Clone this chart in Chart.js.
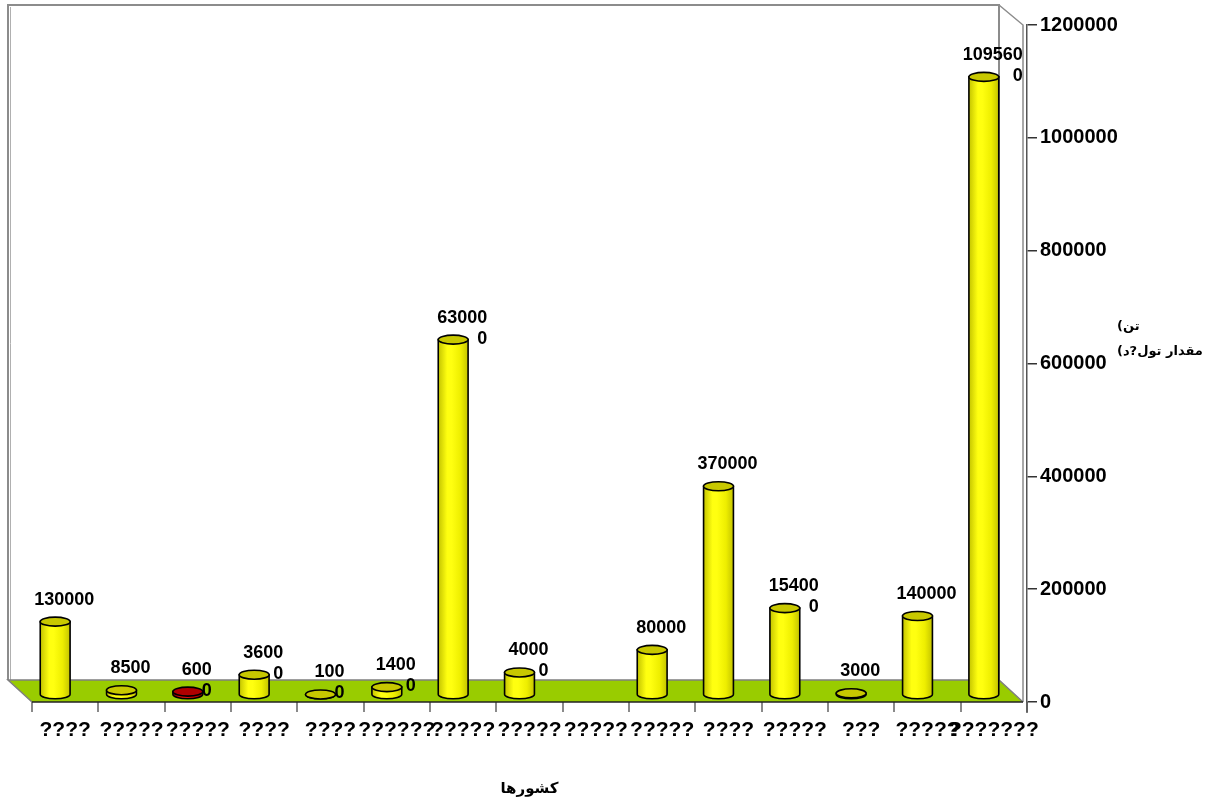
<!DOCTYPE html>
<html>
<head>
<meta charset="utf-8">
<title>کشورها</title>
<script src="https://cdn.jsdelivr.net/npm/chart.js@4/dist/chart.umd.min.js"></script>
<style>
  html, body { margin: 0; padding: 0; background: #ffffff; }
  #wrap { width: 1211px; height: 802px; }
</style>
</head>
<body>
<div id="wrap"><canvas id="chart" width="1211" height="802"></canvas></div>
<script>
// Category names (as they appear on the axis)
const countries = [
  '????', '?????', '?????', '????', '????', '??????', '?????', '?????',
  '?????', '?????', '????', '?????', '???', '?????', '???????'
];
// Production per country
const production = [
  130000, 8500, 6000, 36000, 1000, 14000, 630000, 40000,
  null, 80000, 370000, 154000, 3000, 140000, 1095600
];
// Value labels whose last digit drops to a second line
const wrappedValueLabels = [2, 3, 4, 5, 6, 7, 11, 14];
// Value axis ticks
const valueTicks = [0, 200000, 400000, 600000, 800000, 1000000, 1200000];
// Axis titles
const xAxisTitle = 'کشورها';
const yAxisTitleLines = ['(تن', '(مقدار تول?د'];

const LATIN = '"Liberation Sans", Arial, sans-serif';
const ARABIC = '"DejaVu Sans", "Liberation Sans", sans-serif';

// Depth of the 3D box and of the column row inside it
const BOX_DX = -24, BOX_DY = -22;
const ROW_DX = -10, ROW_DY = -7;

const palettes = {
  yellow: { edge: '#c4c400', light: '#ffff10', mid: '#eeee00', top: '#c8c800' },
  red:    { edge: '#9a0000', light: '#e41010', mid: '#cc0000', top: '#b00000' }
};

function drawCylinder(ctx, cx, top, bottom, w, pal) {
  const rx = w / 2, ry = 4.5;
  const l = cx - rx, r = cx + rx;
  const g = ctx.createLinearGradient(l, 0, r, 0);
  g.addColorStop(0, pal.edge);
  g.addColorStop(0.3, pal.light);
  g.addColorStop(0.45, pal.light);
  g.addColorStop(0.75, pal.mid);
  g.addColorStop(1, pal.edge);
  ctx.save();
  ctx.lineWidth = 1.6;
  ctx.strokeStyle = '#000';
  ctx.beginPath();
  ctx.moveTo(l, top);
  ctx.lineTo(l, bottom);
  ctx.ellipse(cx, bottom, rx, ry, 0, Math.PI, 0, true);
  ctx.lineTo(r, top);
  ctx.closePath();
  ctx.fillStyle = g;
  ctx.fill();
  ctx.stroke();
  ctx.beginPath();
  ctx.ellipse(cx, top, rx, ry, 0, 0, Math.PI * 2);
  ctx.fillStyle = pal.top;
  ctx.fill();
  ctx.stroke();
  ctx.restore();
}

// Back wall, side wall and floor of the 3D box
const boxPlugin = {
  id: 'box3d',
  beforeDatasetsDraw(chart) {
    const { ctx, chartArea: a } = chart;
    const fl = a.left, fr = a.right - 4, fb = a.bottom, ft = a.top;
    const bl = fl + BOX_DX, br = fr + BOX_DX, bb = fb + BOX_DY, bt = ft + BOX_DY + 2;
    ctx.save();
    // back wall
    ctx.fillStyle = '#ffffff';
    ctx.fillRect(bl, bt, br - bl, bb - bt);
    ctx.strokeStyle = '#8c8c8c';
    ctx.lineWidth = 2;
    ctx.beginPath();
    ctx.moveTo(bl, bb); ctx.lineTo(bl, bt); ctx.lineTo(br, bt); ctx.lineTo(br, bb);
    ctx.stroke();
    ctx.lineWidth = 1;
    ctx.strokeStyle = '#b0b0b0';
    ctx.beginPath();
    ctx.moveTo(bl + 2.5, bb); ctx.lineTo(bl + 2.5, bt + 2);
    ctx.stroke();
    // side wall
    ctx.strokeStyle = '#8c8c8c';
    ctx.lineWidth = 1.5;
    ctx.beginPath();
    ctx.moveTo(br, bt); ctx.lineTo(fr, ft); ctx.lineTo(fr, fb);
    ctx.stroke();
    // floor
    ctx.fillStyle = '#99cc00';
    ctx.beginPath();
    ctx.moveTo(bl, bb); ctx.lineTo(br, bb); ctx.lineTo(fr, fb); ctx.lineTo(fl, fb);
    ctx.closePath();
    ctx.fill();
    ctx.strokeStyle = '#7f7f7f';
    ctx.lineWidth = 1.5;
    ctx.beginPath();
    ctx.moveTo(fl, fb); ctx.lineTo(bl, bb); ctx.lineTo(br, bb); ctx.lineTo(fr, fb);
    ctx.stroke();
    ctx.strokeStyle = '#222';
    ctx.lineWidth = 1.5;
    ctx.beginPath();
    ctx.moveTo(fl, fb); ctx.lineTo(fr, fb);
    ctx.stroke();
    // value axis line runs a little below the floor
    ctx.strokeStyle = '#555';
    ctx.beginPath();
    ctx.moveTo(a.right, fb); ctx.lineTo(a.right, fb + 11);
    ctx.stroke();
    ctx.restore();
  }
};

// Columns drawn as cylinders from the bar elements, with value labels
const cylinderPlugin = {
  id: 'cylinders',
  afterDatasetsDraw(chart) {
    const { ctx } = chart;
    const meta = chart.getDatasetMeta(0);
    const data = chart.data.datasets[0].data;
    meta.data.forEach((el, i) => {
      const v = data[i];
      if (v === null || v === undefined) return;
      const p = el.getProps(['x', 'y', 'base', 'width'], true);
      const cx = p.x + ROW_DX;
      const top = p.y + ROW_DY;
      const bottom = p.base + ROW_DY;
      drawCylinder(ctx, cx, top, bottom, p.width, i === 2 ? palettes.red : palettes.yellow);

      const text = String(v);
      const lx = cx + 9;
      const ly = top - 22;
      ctx.save();
      ctx.fillStyle = '#000';
      ctx.font = 'bold 18px ' + LATIN;
      ctx.textBaseline = 'middle';
      if (wrappedValueLabels.includes(i)) {
        const first = text.slice(0, -1);
        const w1 = ctx.measureText(first).width;
        ctx.textAlign = 'center';
        ctx.fillText(first, lx, ly);
        ctx.textAlign = 'right';
        ctx.fillText(text.slice(-1), lx + w1 / 2, ly + 21);
      } else {
        ctx.textAlign = 'center';
        ctx.fillText(text, lx, ly);
      }
      ctx.restore();
    });
  },
  afterDraw(chart) {
    const { ctx, chartArea: a } = chart;
    ctx.save();
    ctx.fillStyle = '#000';
    ctx.direction = 'ltr';
    ctx.textAlign = 'left';
    ctx.textBaseline = 'middle';
    const x0 = a.right + 90;
    // fit the longer line into the space right of the tick labels
    let size = 14;
    ctx.font = 'bold ' + size + 'px ' + ARABIC;
    while (size > 9 && ctx.measureText(yAxisTitleLines[1]).width > 88) {
      size -= 0.5;
      ctx.font = 'bold ' + size + 'px ' + ARABIC;
    }
    ctx.fillText(yAxisTitleLines[0], x0, 327);
    ctx.fillText(yAxisTitleLines[1], x0, 352);
    ctx.restore();
  }
};

new Chart(document.getElementById('chart'), {
  type: 'bar',
  data: {
    labels: countries,
    datasets: [{
      data: production,
      backgroundColor: 'rgba(0,0,0,0)',
      borderWidth: 0,
      barPercentage: 0.45,
      categoryPercentage: 1
    }]
  },
  options: {
    responsive: false,
    animation: false,
    devicePixelRatio: 1,
    layout: { padding: { left: 32, top: 25, right: 0, bottom: 0 } },
    plugins: { legend: { display: false }, tooltip: { enabled: false } },
    scales: {
      x: {
        offset: true,
        grid: { offset: true, drawOnChartArea: false, drawTicks: true, tickLength: 10, color: '#8a8a8a', lineWidth: 2 },
        border: { display: false },
        ticks: {
          autoSkip: false, maxRotation: 0, minRotation: 0, padding: 6,
          color: '#000', font: { family: LATIN, size: 21, weight: 'bold' }
        },
        title: {
          display: true, text: xAxisTitle, color: '#000',
          font: { family: ARABIC, size: 15, weight: 'bold' },
          padding: { top: 0, bottom: 4 }
        },
        afterFit(scale) { scale.height = 100; }
      },
      y: {
        position: 'right',
        min: 0,
        max: 1200000,
        afterBuildTicks(scale) { scale.ticks = valueTicks.map(v => ({ value: v })); },
        grid: { drawOnChartArea: false, drawTicks: true, tickLength: 10, color: '#333', lineWidth: 1.5 },
        border: { display: true, color: '#555', width: 1.5 },
        ticks: {
          padding: 3, color: '#000',
          font: { family: LATIN, size: 20, weight: 'bold' },
          callback: v => String(v)
        },
        afterFit(scale) { scale.width = 184; }
      }
    }
  },
  plugins: [boxPlugin, cylinderPlugin]
});
</script>
</body>
</html>
